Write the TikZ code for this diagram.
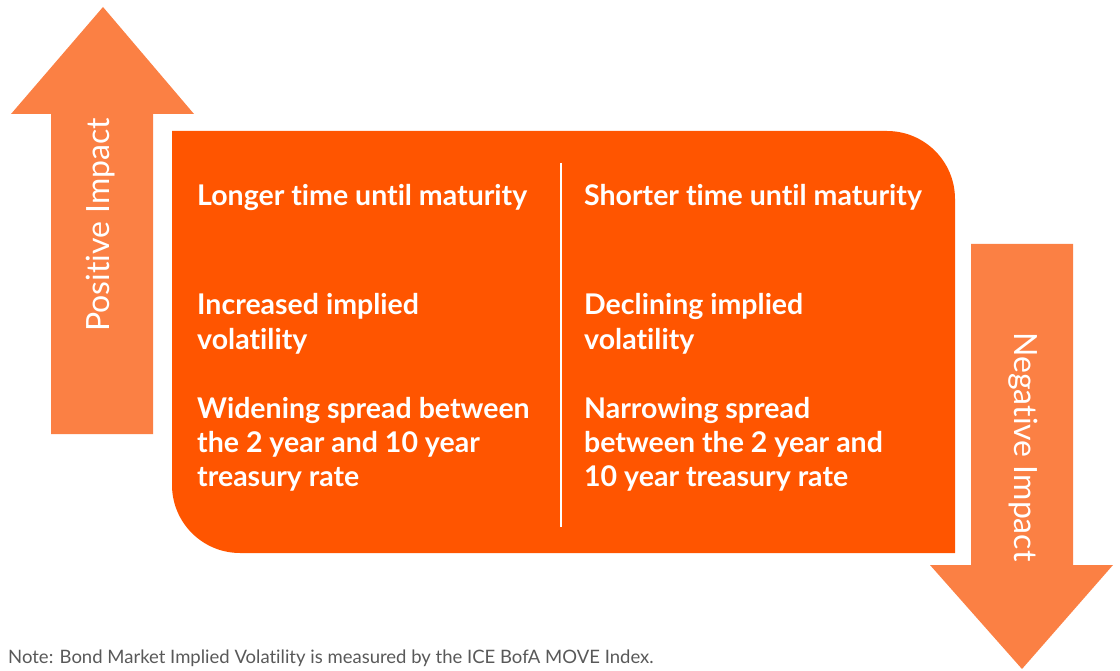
\documentclass[tikz,border=0pt]{standalone}
\usepackage{fontspec}
\setmainfont{Lato}[Ligatures=NoCommon]
\definecolor{boxorange}{HTML}{FF5500}
\definecolor{arroworange}{HTML}{FB8044}
\definecolor{notegray}{HTML}{595959}
\begin{document}
\begin{tikzpicture}[x=1pt,y=-1pt,
  arrowshape/.style={fill=arroworange},
  panel/.style={fill=boxorange},
  itemline/.style={text=white, anchor=base west, inner sep=0pt,
    font=\fontsize{28.5}{34}\selectfont\bfseries},
  arrowlabel/.style={text=white, font=\fontsize{32}{36}\selectfont},
  note/.style={text=notegray, anchor=base west, inner sep=0pt,
    font=\fontsize{18.5}{22}\selectfont}]
\useasboundingbox (0,0) rectangle (1120,671);

% upward arrow: positive impact
\fill[arrowshape] (103,7) -- (194,114) -- (153,114) -- (153,434)
  -- (51,434) -- (51,114) -- (11,114) -- cycle;
\node[arrowlabel, rotate=90] (pos) at (101,225) {Positive Impact};

% downward arrow: negative impact
\fill[arrowshape] (971,244) -- (1073,244) -- (1073,565) -- (1113,565)
  -- (1022,669) -- (930,565) -- (971,565) -- cycle;
\node[arrowlabel, rotate=-90] (neg) at (1023,447) {Negative Impact};

% central panel with two rounded corners
\fill[panel] (172,131) -- (887,131) arc[start angle=-90, end angle=0, radius=68]
  -- (955,553) -- (240,553) arc[start angle=90, end angle=180, radius=68] -- cycle;

% column divider
\coordinate (divtop) at (561,163);
\coordinate (divbot) at (561,527);
\draw[white, line width=2pt] (divtop) -- (divbot);

% left column
\node[itemline] (l1)  at (197,206) {Longer time until maturity};
\node[itemline] (l2a) at (197,315) {Increased implied};
\node[itemline] (l2b) at (197,349) {volatility};
\node[itemline] (l3a) at (197,418) {Widening spread between};
\node[itemline] (l3b) at (197,452) {the 2 year and 10 year};
\node[itemline] (l3c) at (197,486) {treasury rate};

% right column
\node[itemline] (r1)  at (584,206) {Shorter time until maturity};
\node[itemline] (r2a) at (584,315) {Declining implied};
\node[itemline] (r2b) at (584,349) {volatility};
\node[itemline] (r3a) at (584,418) {Narrowing spread};
\node[itemline] (r3b) at (584,452) {between the 2 year and};
\node[itemline] (r3c) at (584,486) {10 year treasury rate};

% footnote
\node[note] (fn) at (8,663) {Note: Bond Market Implied Volatility is measured by the ICE BofA MOVE Index.};
\end{tikzpicture}
\end{document}
